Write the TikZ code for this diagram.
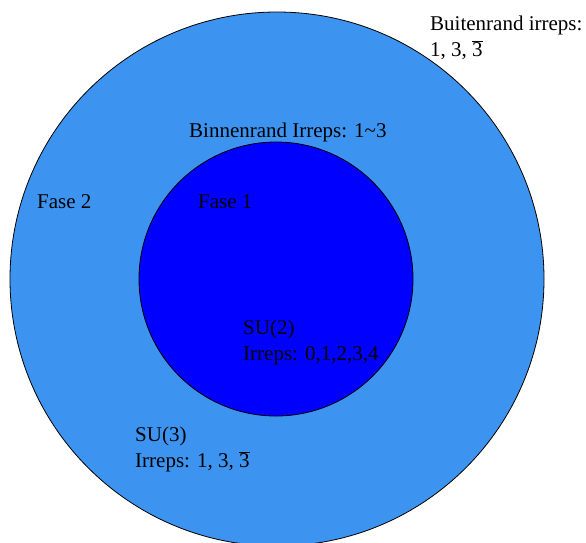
\documentclass[tikz,border=0pt]{standalone}
\usepackage{fontspec}
\setmainfont{Liberation Serif}
\newcommand{\threebar}{$\overline{\mbox{3}}$}
\begin{document}
\begin{tikzpicture}
        [x=1pt, y=-1pt,
        fase/.style={draw=black, line width=0.8pt},
        label/.style={anchor=base west, inner sep=0pt, align=left, font=\fontsize{21}{26}\selectfont}]

        \useasboundingbox (0,0) rectangle (586,542);

        % the two phases
        \draw[fase, fill={rgb,255:red,61;green,148;blue,240}] (277,279) circle [radius=267pt];
        \draw[fase, fill={rgb,255:red,0;green,0;blue,255}] (276,279) circle [radius=137pt];

        % labels (base = baseline of the last line)
        \node[label] (buiten) at (430,56) {Buitenrand irreps:\\1, 3, \threebar};
        \node[label] (binnen) at (189,137) {Binnenrand Irreps: 1\textasciitilde3};
        \node[label] (fase2) at (37,208) {Fase 2};
        \node[label] (fase1) at (198,208) {Fase 1};
        \node[label] (su2) at (243,360) {SU(2)\\Irreps: 0,1,2,3,4};
        \node[label] (su3) at (135,467) {SU(3)\\Irreps: 1, 3, \threebar};

\end{tikzpicture}
\end{document}
